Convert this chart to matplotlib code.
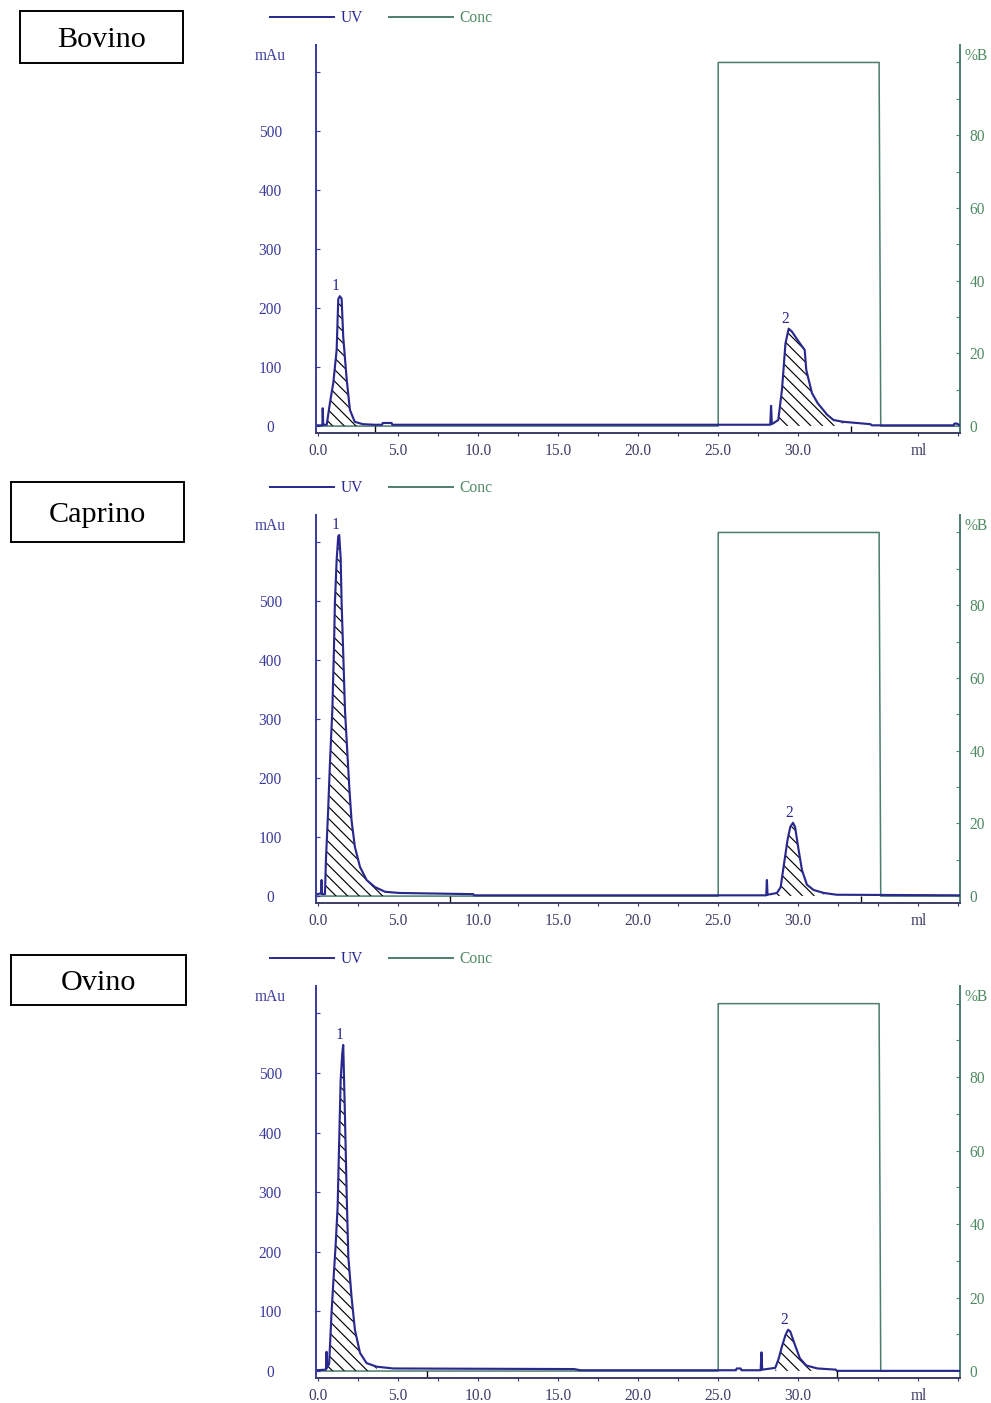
import numpy as np
import matplotlib
matplotlib.use('Agg')
import matplotlib.pyplot as plt
from matplotlib.lines import Line2D
from matplotlib.patches import Rectangle

plt.rcParams['font.family'] = ['Liberation Serif', 'DejaVu Serif']
plt.rcParams['hatch.linewidth'] = 0.6

# --- data (ml, mAu) ---
bovino_x = [-0.12, 0.28, 0.30, 0.33, 0.55, 0.75, 0.96, 1.17, 1.27, 1.37, 1.48, 1.58, 1.8, 2.0,
            2.3, 2.8, 3.5, 4.0, 4.05, 4.6, 4.65, 28.25, 28.3, 28.35, 28.75, 28.98, 29.2, 29.4,
            29.6, 30.1, 30.4, 30.5, 30.85, 31.2, 31.8, 32.2, 32.8, 34.5, 34.6, 39.7, 39.75,
            39.9, 40.1]
bovino_uv = [1, 1, 30, 2, 2, 39, 73, 129, 215, 220, 216, 151, 78, 27,
             7, 3, 2, 2, 5, 5, 2, 2, 34, 3, 10, 61, 140, 165,
             160, 140, 129, 95, 56, 39, 19, 10, 7, 3, 1, 1, 4,
             4, 1]
bovino_peaks = [(0.55, 2.8), (28.75, 32.8)]
bovino_marks = [3.56, 33.3]

caprino_x = [-0.12, 0.1, 0.2, 0.23, 0.26, 0.44, 0.5, 0.64, 0.75, 0.9, 1.0, 1.06, 1.17, 1.27,
             1.33, 1.42, 1.48, 1.58, 1.69, 1.83, 1.96, 2.1, 2.31, 2.63, 3.04, 3.56, 4.2, 5.1,
             9.7, 9.75, 28.0, 28.04, 28.08, 28.67, 28.9, 29.08, 29.33, 29.5, 29.67, 29.8,
             30.02, 30.23, 30.54, 30.96, 31.6, 32.4, 40.1]
caprino_uv = [2, 4, 4, 27, 3, 3, 61, 146, 225, 315, 417, 497, 570, 610,
              612, 573, 497, 412, 315, 247, 184, 128, 83, 49, 27, 15, 7, 5,
              3, 1, 1, 27, 2, 5, 15, 49, 95, 117, 124, 117,
              78, 44, 19, 10, 5, 2, 1]
caprino_peaks = [(0.44, 4.2), (28.6, 31.6)]
caprino_marks = [8.25, 33.9]

ovino_x = [-0.12, 0.5, 0.54, 0.58, 0.7, 0.85, 0.96, 1.1, 1.23, 1.33, 1.42, 1.52, 1.58, 1.69,
           1.8, 1.9, 2.1, 2.31, 2.63, 3.04, 3.67, 4.7, 16.0, 16.4, 26.1, 26.15, 26.4, 26.45,
           27.65, 27.7, 27.75, 28.56, 28.77, 28.98, 29.2, 29.36, 29.5, 29.8, 30.1, 30.5,
           31.2, 32.35, 32.4, 40.1]
ovino_uv = [1, 2, 32, 5, 12, 97, 148, 208, 275, 388, 488, 533, 547, 426,
            292, 191, 124, 69, 30, 13, 7, 4, 3, 1, 1, 4, 4, 1,
            1, 31, 2, 5, 20, 41, 60, 69, 66, 43, 21, 9,
            4, 2, 0, 0]
ovino_peaks = [(0.54, 3.67), (28.5, 31.2)]
ovino_marks = [6.8, 32.4]

# gradient (%B)
conc_x = [-0.12, 25.0, 25.0, 35.05, 35.05, 35.15, 40.1]
conc_b = [0, 0, 100, 100, 97, 0, 0]

sample_names = ['Bovino', 'Caprino', 'Ovino']
x_ticks = np.arange(0, 40.1, 2.5)
x_labels = ['0.0', '', '5.0', '', '10.0', '', '15.0', '', '20.0', '', '25.0', '', '30.0', '', '', 'ml', '']
uv_ticks = [0, 100, 200, 300, 400, 500, 600]
uv_labels = ['0', '100', '200', '300', '400', '500', '']
b_ticks = list(range(0, 101, 10))
b_labels = ['0', '', '20', '', '40', '', '60', '', '80', '', '']

UV_COLOR = '#28288e'
AXIS_BLUE = '#3a3a9c'
CONC_COLOR = '#4d7d6e'
GREEN_TXT = '#4f8a62'
XLAB_COLOR = '#3c3c66'

DPI = 140
W, H = 991, 1403
fig = plt.figure(figsize=(W / DPI, H / DPI), dpi=DPI)


def px_rect(left, top, right, bottom):
    return [left / W, 1 - bottom / H, (right - left) / W, (bottom - top) / H]


panels_px = [(45, 433), (515, 903), (986, 1378)]
boxes_px = [(20, 11, 183, 63), (11, 482, 184, 542), (11, 955, 186, 1005)]
samples = [(bovino_x, bovino_uv, bovino_peaks, bovino_marks),
           (caprino_x, caprino_uv, caprino_peaks, caprino_marks),
           (ovino_x, ovino_uv, ovino_peaks, ovino_marks)]

for (top, bottom), (bx0, by0, bx1, by1), name, (xs, uv, peaks, marks) in zip(
        panels_px, boxes_px, sample_names, samples):
    ax = fig.add_axes(px_rect(316, top, 960, bottom))
    ax2 = ax.twinx()
    ax.set_zorder(ax2.get_zorder() + 1)
    ax.patch.set_visible(False)

    xs = np.array(xs, dtype=float)
    uv = np.array(uv, dtype=float)

    # gradient
    ax2.plot(conc_x, conc_b, color=CONC_COLOR, lw=0.8)
    ax2.set_ylim(-1.9, 104.8)

    # UV trace
    ax.plot(xs, uv, color=UV_COLOR, lw=1.1)
    for i, (p0, p1) in enumerate(peaks):
        m = (xs >= p0) & (xs <= p1)
        ax.fill_between(xs[m], 0, uv[m], facecolor='none', edgecolor='black',
                        hatch='\\\\\\\\', linewidth=0)
        k = np.argmax(np.where(m, uv, -1))
        ax.annotate(str(i + 1), (xs[k], uv[k]), xytext=(-2, 1), textcoords='offset points',
                    ha='center', va='bottom', fontsize=8, color=UV_COLOR)
    ax.vlines(marks, -12, 0, color='black', lw=0.7)

    ax.set_xlim(-0.12, 40.1)
    ax.set_ylim(-12, 646)

    # axes styling
    for s in ['top', 'right']:
        ax.spines[s].set_visible(False)
    ax.spines['left'].set_color(AXIS_BLUE)
    ax.spines['bottom'].set_color(XLAB_COLOR)
    ax.spines['left'].set_linewidth(1.0)
    ax.spines['bottom'].set_linewidth(1.0)
    for s in ['top', 'left', 'bottom']:
        ax2.spines[s].set_visible(False)
    ax2.spines['right'].set_color(CONC_COLOR)
    ax2.spines['right'].set_linewidth(1.0)

    ax.set_xticks(x_ticks)
    ax.set_xticklabels(x_labels)
    ax.tick_params(axis='x', direction='out', length=1.5, width=0.6, colors=XLAB_COLOR,
                   labelsize=8, pad=3.5)
    ax.set_yticks(uv_ticks)
    ax.set_yticklabels(uv_labels)
    ax.tick_params(axis='y', direction='in', length=2, width=0.6, colors=AXIS_BLUE,
                   labelsize=8, pad=23.5)
    for t in ax.get_yticklabels():
        t.set_horizontalalignment('center')
    ax2.set_yticks(b_ticks)
    ax2.set_yticklabels(b_labels)
    ax2.tick_params(axis='y', direction='in', length=2, width=0.6, colors=GREEN_TXT,
                    labelsize=8, pad=5)

    ax.annotate('mAu', (0, 1), xytext=(-46, -11), textcoords='offset pixels',
                xycoords='axes fraction', ha='center', va='center', fontsize=8, color=AXIS_BLUE)
    ax.annotate('%B', (1, 1), xytext=(16, -11), textcoords='offset pixels',
                xycoords='axes fraction', ha='center', va='center', fontsize=8, color=GREEN_TXT)

    # legend above the plot
    h_ax = bottom - top
    handles = [Line2D([], [], color=UV_COLOR, lw=1.0), Line2D([], [], color=CONC_COLOR, lw=1.0)]
    leg = ax.legend(handles, ['UV', 'Conc'], ncol=2, loc='center left',
                    bbox_to_anchor=(-46 / 644, 1 + 27 / h_ax), frameon=False, fontsize=8,
                    handlelength=4.1, handletextpad=0.45, columnspacing=1.65,
                    borderpad=0, borderaxespad=0)
    leg.get_texts()[0].set_color(UV_COLOR)
    leg.get_texts()[1].set_color(GREEN_TXT)

    # sample name box
    fig.add_artist(Rectangle((bx0 / W, 1 - by1 / H), (bx1 - bx0) / W, (by1 - by0) / H,
                             transform=fig.transFigure, fill=False, ec='black', lw=1.0))
    fig.text((bx0 + bx1) / 2 / W, 1 - (by0 + by1) / 2 / H, name, ha='center',
             va='center_baseline', fontsize=15.5, color='black')

fig.savefig('out.png', dpi=DPI, facecolor='white')
